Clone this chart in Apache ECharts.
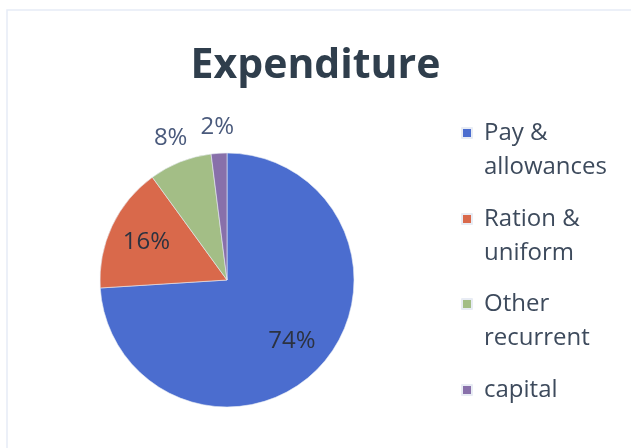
<!DOCTYPE html>
<html>
<head>
<meta charset="utf-8">
<script src="https://cdn.jsdelivr.net/npm/echarts@6/dist/echarts.min.js"></script>
<style>
  html, body { margin: 0; padding: 0; background: #fff; }
  #myChart { width: 631px; height: 448px; }
</style>
</head>
<body>
<div id="myChart"></div>
<script>
// data
var categories = ['Pay &\nallowances', 'Ration &\nuniform', 'Other\nrecurrent', 'capital'];
var values = [74, 16, 8, 2];
var colors = ['#4b6dcf', '#d9694b', '#a3be86', '#8870aa'];

var seriesData = categories.map(function (c, i) {
    return { name: c, value: values[i] };
});

// one legend per item; an empty first line keeps the icon on the first text line
var legendTops = [77, 163, 248, 368];
var legends = categories.map(function (c, i) {
    var twoLines = c.indexOf('\n') >= 0;
    return {
        data: [c],
        left: 456,
        top: legendTops[i],
        orient: 'vertical',
        icon: 'rect',
        itemWidth: 10,
        itemHeight: 10,
        selectedMode: false,
        formatter: function (name) { return twoLines ? '\n' + name : name; },
        textStyle: {
            fontFamily: 'Open Sans',
            fontSize: 24,
            color: '#3d4a5c',
            lineHeight: 34,
            padding: [0, 0, 0, 7]
        }
    };
});

var myChart = echarts.init(document.getElementById('myChart'));
var option = {
    backgroundColor: '#fff',
    color: colors,
    graphic: [{
        // faint slide frame from the scan
        type: 'rect',
        shape: { x: 7, y: 10, width: 640, height: 460 },
        style: { fill: 'none', stroke: '#e6ecf6', lineWidth: 1.5 },
        silent: true
    }],
    title: {
        text: 'Expenditure',
        left: 'center',
        top: 41,
        textStyle: {
            fontFamily: 'Open Sans',
            fontWeight: 'bold',
            fontSize: 41,
            color: '#2f3e4c'
        }
    },
    legend: legends,
    series: [
        {
            // the pie itself
            type: 'pie',
            center: [227, 280],
            radius: [0, 127],
            startAngle: 90,
            clockwise: true,
            silent: true,
            data: seriesData,
            itemStyle: { borderColor: '#e8ecf4', borderWidth: 0.6 },
            label: { show: false },
            labelLine: { show: false }
        },
        {
            // labels inside the big slices
            type: 'pie',
            center: [227, 280],
            radius: [0, 172],
            startAngle: 90,
            silent: true,
            data: seriesData,
            itemStyle: { color: 'rgba(0,0,0,0)' },
            label: {
                show: true,
                position: 'inside',
                fontFamily: 'Open Sans',
                fontSize: 24,
                color: '#2c3240',
                formatter: function (p) { return p.value >= 10 ? p.value + '%' : ''; }
            },
            labelLine: { show: false }
        },
        {
            // labels outside the small slices
            type: 'pie',
            center: [227, 280],
            radius: [130, 170],
            startAngle: 90,
            silent: true,
            data: seriesData,
            itemStyle: { color: 'rgba(0,0,0,0)' },
            label: {
                show: true,
                position: 'inside',
                fontFamily: 'Open Sans',
                fontSize: 24,
                color: '#4a5a7c',
                formatter: function (p) { return p.value < 10 ? p.value + '%' : ''; }
            },
            labelLine: { show: false }
        }
    ]
};
myChart.setOption(option);
</script>
</body>
</html>
